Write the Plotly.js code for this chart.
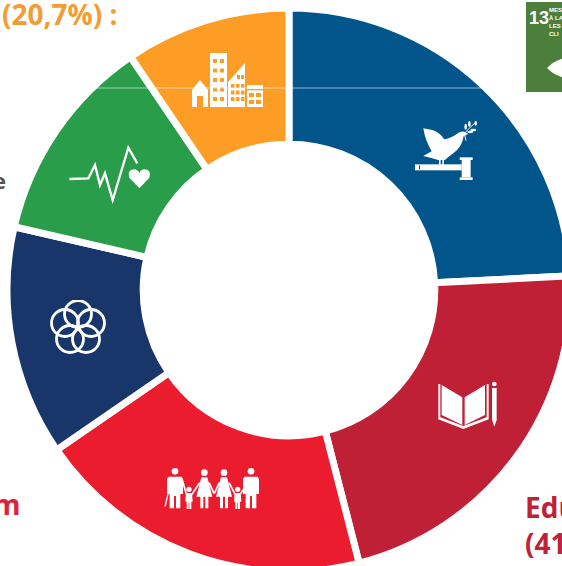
<!DOCTYPE html>
<html><head><meta charset="utf-8">
<script src="https://cdn.plot.ly/plotly-3.0.0.min.js"></script>
<style>html,body{margin:0;padding:0;background:#fff;overflow:hidden;width:562px;height:566px}#c{width:562px;height:566px;overflow:hidden}</style>
</head><body><div id="c"></div>
<script>
// Share of the ring per goal (%)
var goals = ["ODD 16", "ODD 4", "ODD 10", "ODD 5", "ODD 3", "ODD 11"];
var shares = [24.2, 21.8, 19.4, 13.2, 11.9, 9.5];
var colors = ["#02558B", "#BF2035", "#EB1C2E", "#19366B", "#2A9D4B", "#FD9D26"];

var W = 576, H = 578, ML = 7, MT = 8, PW = 564;
function px(x){ return (x - ML) / PW; }
function py(y){ return 1 - (y - MT) / PW; }
function img(x, y, w, h, vb, body){
  var svg = '<svg xmlns="http://www.w3.org/2000/svg" width="'+w+'" height="'+h+'" viewBox="'+vb+'">'+body+'</svg>';
  return {source:'data:image/svg+xml;charset=utf-8,'+encodeURIComponent(svg), xref:'paper', yref:'paper',
    x:px(x), y:py(y), sizex:w/PW, sizey:h/PW, xanchor:'left', yanchor:'top', sizing:'stretch', layer:'above'};
}
function note(text, x, y, size, color, anchor, fam, weight){
  return {text:text, xref:'paper', yref:'paper', x:px(x), y:py(y), xanchor:anchor||'left', yanchor:'middle',
    showarrow:false, borderpad:0, font:{family:fam||'"Open Sans"', size:size, color:color, weight:weight||700}};
}

// ---- icons (decoration) ----
var city = '<g fill="#fff"><path d="M192 107V90L200 80L208 90V107H203V96H197V107Z"/><rect x="210" y="53" width="17" height="54"/><path d="M228 107V82L245 63V107Z"/><rect x="247" y="85" width="16" height="22"/></g><g fill="#FD9D26">';
[0,1,2,3,4].forEach(function(r){ [213,220].forEach(function(c){ city += '<rect x="'+c+'" y="'+(59+r*9.5)+'" width="4" height="4"/>'; }); });
[0,1,2].forEach(function(r){ [231,236,241].forEach(function(c){ city += '<rect x="'+c+'" y="'+(84+r*6.5)+'" width="3.5" height="4"/>'; }); });
[237,241].forEach(function(c){ city += '<rect x="'+c+'" y="75" width="3" height="4"/>'; });
[249,256].forEach(function(c){ [93,100].forEach(function(r){ city += '<rect x="'+c+'" y="'+r+'" width="5" height="4"/>'; }); });
city += '<rect x="247" y="89" width="16" height="1.3"/></g>';

var dove = '<g fill="#fff"><path d="M55 55L82 60Q105 68 118 88Q140 84 155 72Q165 62 178 65L190 72L176 78Q172 112 142 132Q128 142 120 150L100 150Q85 146 55 138L80 124Q60 90 55 55Z"/>'
 + '<rect x="102" y="146" width="5" height="20"/><rect x="112" y="146" width="5" height="20"/>'
 + '<rect x="30" y="163" width="140" height="18"/><rect x="170" y="150" width="27" height="52"/><rect x="164" y="142" width="39" height="8"/><rect x="164" y="202" width="39" height="8"/></g>'
 + '<g fill="#02558B"><rect x="42" y="166" width="3" height="12"/></g>'
 + '<g stroke="#fff" fill="none" stroke-width="3"><path d="M178 70Q190 58 208 40"/><path d="M183 92L178 70"/></g><g fill="#fff"><ellipse cx="182" cy="50" rx="4" ry="9"/><ellipse cx="193" cy="42" rx="4" ry="9"/><ellipse cx="205" cy="60" rx="9" ry="4"/><ellipse cx="196" cy="66" rx="9" ry="3.5"/><ellipse cx="212" cy="40" rx="4" ry="7"/></g>';

var book = '<g fill="#fff"><path d="M50 45L112 82V165L50 135Z"/><path d="M119 82L180 45V135L119 165Z"/><path d="M40 42H46V142L115 168L185 142V42H191V148L115 177L40 148Z"/><circle cx="208" cy="42" r="7"/><path d="M201 54H215V150L208 170L201 150Z"/></g>';

var flower = '<g fill="none" stroke="#fff" stroke-width="2.8">';
[[78,314],[91,323],[86,339],[70,339],[65,323]].forEach(function(c){ flower += '<circle cx="'+c[0]+'" cy="'+c[1]+'" r="13.5"/>'; });
flower += '</g>';

var pulse = '<g><polyline points="28,132 85,130 105,90 120,150 135,115 158,195 205,38 232,85" fill="none" stroke="#fff" stroke-width="7" stroke-linejoin="miter"/><path d="M238 160L208 128Q200 105 222 103Q233 103 238 114Q243 103 254 103Q276 105 268 128Z" fill="#fff"/></g>';

function man(x){ return '<circle cx="'+x+'" cy="34" r="10"/><path d="M'+(x-19)+' 50H'+(x+19)+'Q'+(x+24)+' 52 '+(x+24)+' 60V102H'+(x+16)+'V145H'+(x+3)+'V108H'+(x-3)+'V145H'+(x-16)+'V102H'+(x-24)+'V60Q'+(x-24)+' 52 '+(x-19)+' 50Z"/>'; }
function woman(x){ return '<circle cx="'+x+'" cy="38" r="10"/><path d="M'+(x-9)+' 52H'+(x+9)+'L'+(x+24)+' 110H'+(x+12)+'V145H'+(x+3)+'V110H'+(x-3)+'V145H'+(x-12)+'V110H'+(x-24)+'Z"/>'; }
function kid(x){ return '<circle cx="'+x+'" cy="88" r="8"/><path d="M'+(x-9)+' 99H'+(x+9)+'L'+(x+11)+' 125H'+(x+7)+'V147H'+(x+1)+'V128H'+(x-1)+'V147H'+(x-7)+'V125H'+(x-11)+'Z"/>'; }
var family = '<g fill="#fff">'+man(60)+kid(102)+woman(148)+woman(207)+kid(248)+man(288)+'</g>'
 + '<g stroke="#fff" stroke-width="5" fill="none"><path d="M82 60L94 102"/><path d="M110 104L134 68"/><path d="M162 68L177 100"/><path d="M193 68L178 100"/><path d="M222 68L240 102"/><path d="M256 102L268 85"/><path d="M30 140L40 98" stroke-width="4"/></g>';

var tile = '<rect x="526" y="2" width="50" height="90" fill="#4C7F3C"/><path d="M547 68Q556 58 576 56V80Q556 78 547 68Z" fill="#fff"/>';

var images = [
  img(185,45,85,68,'185 45 85 68',city),
  img(405,110,80,80,'0 0 240 240',dove),
  img(425,370,80,70,'0 0 240 210',book),
  img(40,300,76,54,'40 300 76 54',flower),
  img(60,135,95,75,'0 0 285 225',pulse),
  img(155,460,110,55,'0 0 330 165',family),
  img(520,0,56,100,'520 0 56 100',tile)
];

var SANS = '"Liberation Sans"';
var notes = [
  note('(20,7%) :', 1, 14, 28, '#F49C34'),
  note('m', 22, 504, 28, '#DE2239', 'right'),
  note('Edu', 524, 507, 28, '#BF2237'),
  note('(41', 524, 543, 28, '#BF2237'),
  note('e', -8, 180, 22, '#555555'),
  note('13', 528, 18, 18, '#FFFFFF', 'left', SANS, 700),
  note('MES', 548, 10, 6, '#FFFFFF', 'left', SANS, 700),
  note('À LA', 548, 18, 6, '#FFFFFF', 'left', SANS, 700),
  note('LES', 548, 26, 6, '#FFFFFF', 'left', SANS, 700),
  note('CLI', 548, 34, 6, '#FFFFFF', 'left', SANS, 700)
];

Plotly.newPlot('c', [{
  type:'pie', labels:goals, values:shares, sort:false, direction:'clockwise', rotation:0,
  hole:0.517, textinfo:'none', hoverinfo:'label+percent', showlegend:false,
  marker:{colors:colors, line:{color:'#FFFFFF', width:7}}, automargin:false
}], {
  width:W, height:H, paper_bgcolor:'#fff', showlegend:false,
  margin:{l:ML, r:W-ML-PW, t:MT, b:H-MT-PW, pad:0},
  images:images, annotations:notes,
  shapes:[{type:'line', xref:'paper', yref:'paper', x0:px(80), x1:px(500), y0:py(88), y1:py(88),
    line:{color:'rgba(255,255,255,0.28)', width:2}}]
}, {displayModeBar:false, staticPlot:true});
</script></body></html>
